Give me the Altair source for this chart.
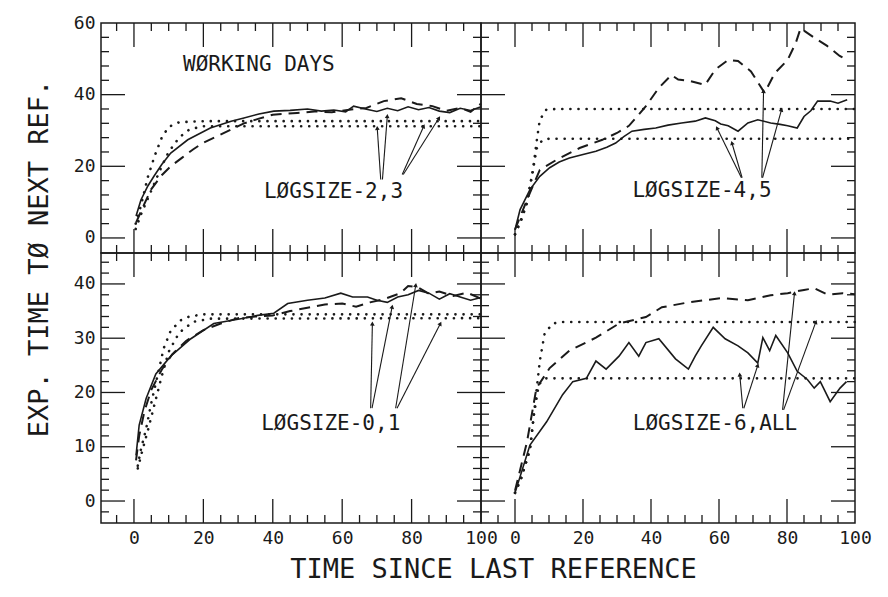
import math
import altair as alt
import pandas as pd

FONT = "DejaVu Sans Mono"
INK = "#1a1a1a"

# ---------------- data ----------------
# Top-left: LØGSIZE-2,3
tl_dot1_x = [0.5, 2, 4, 6, 8, 10, 13, 20, 100]
tl_dot1_y = [4, 9, 17, 23, 28, 31, 32.3, 32.6, 32.6]
tl_dot2_x = [0.5, 2, 4, 6, 8, 10, 13, 16, 20, 100]
tl_dot2_y = [2.5, 6.5, 11, 15.5, 20, 24, 28, 30.3, 31.2, 31.2]
tl_sol_x = [0.6, 2, 4, 5.8, 8, 10.6, 15.5, 22, 28, 31.7, 36, 40.3, 45, 50, 54, 57.6, 61, 63.3, 67, 70,
            73, 76, 79, 82, 85, 88, 91, 94, 97, 100]
tl_sol_y = [6.1, 10.6, 14.5, 17.3, 20.5, 23.7, 27.4, 30.7, 32.6, 33.5, 34.6, 35.4, 35.6, 36.0, 35.4, 35.7,
            35.2, 36.8, 35.9, 35.3, 36.2, 35.5, 36.6, 35.8, 36.4, 35.4, 35.0, 36.2, 35.6, 36.6]
tl_das_x = [0.6, 3, 4.9, 8, 10.6, 14, 17, 20, 24, 28, 31.7, 36, 40, 47, 52, 57, 62, 67, 72, 77, 81.5,
            86, 90, 94, 97, 100]
tl_das_y = [4.3, 9.5, 13.5, 17.5, 20, 22.5, 24.7, 26.6, 28.4, 30.3, 32, 33.3, 34.4, 34.9, 35.3, 35.1,
            35.8, 36.3, 38.2, 39, 37.4, 36.8, 35.5, 36.3, 35.2, 37.5]

# Top-right: LØGSIZE-4,5
tr_dot1_x = [0, 2, 3.5, 5.3, 6.3, 7.3, 9.2, 12, 20, 100]
tr_dot1_y = [1, 5.5, 9.8, 19, 26.5, 33, 35.8, 36, 36, 36]
tr_dot2_x = [0, 2, 3.5, 5.3, 6.4, 8, 10, 100]
tr_dot2_y = [1, 5.5, 9.8, 19, 25, 27.3, 27.7, 27.7]
tr_sol_x = [0, 1.5, 4.4, 7.3, 10.2, 13, 16, 20, 23.8, 27, 29.6, 32, 34.4, 38, 41.4, 45, 49, 53, 56,
            58.9, 60.5, 62.7, 65.6, 68.5, 71.4, 75.2, 78, 80.2, 83, 85, 87, 89, 92.7, 95, 97.7]
tr_sol_y = [2.3, 7.9, 13.5, 17.2, 19.6, 21.2, 22.3, 23.3, 24.2, 25.3, 26.5, 28.3, 29.8, 30.3, 30.7,
            31.5, 32.1, 32.6, 33.5, 32.7, 31.8, 31.3, 29.8, 32.1, 33, 32.1, 31.7, 31.3, 30.7, 33.9,
            35.5, 38.2, 38.2, 37.6, 38.6]
tr_das_x = [0, 3.5, 7.3, 12.2, 19, 25.7, 30, 33.5, 36, 38.5, 42.3, 46, 48, 51, 55.9, 58.9, 62.7, 65.6,
            69.4, 73.4, 76.4, 80.2, 82.6, 84, 88, 91.8, 95.5, 98]
tr_das_y = [2.3, 10.6, 19, 21.8, 25.1, 27.4, 29.3, 31.3, 34, 36.8, 41.9, 45.5, 44.2, 43.9, 42.7, 47,
            49.7, 49.4, 46.5, 40.5, 46, 49.7, 54.5, 58.5, 55.9, 53.6, 50.8, 49.5]

# Bottom-left: LØGSIZE-0,1
bl_dot1_x = [1.1, 2, 3.5, 4.9, 6.9, 8.6, 10.6, 13.5, 16, 20, 100]
bl_dot1_y = [6.5, 9.5, 13.3, 17.8, 23.4, 28.2, 31.4, 33.3, 34, 34.4, 34.4]
bl_dot2_x = [1.1, 2.5, 4, 6, 8, 10, 13, 17, 22, 100]
bl_dot2_y = [6, 9.5, 13, 18, 23, 27.5, 31, 33, 33.6, 33.7]
bl_sol_x = [0.6, 1.5, 3.5, 6.3, 10.6, 16.4, 23, 30.8, 35.7, 40.3, 44.3, 50, 55, 59.6, 63, 67.3, 70, 73,
            76, 79, 82, 85, 88, 91, 94, 97, 100]
bl_sol_y = [8.4, 14, 18.9, 23.4, 26.7, 29.9, 32.7, 33.6, 34.2, 34.6, 36.4, 37, 37.4, 38.3, 37.6, 37.6,
            37, 36.6, 37.6, 38, 38.8, 38.3, 37.2, 38.2, 37.6, 37, 37.5]
bl_das_x = [0.6, 1.5, 3, 5, 8, 11, 15, 20, 25, 30, 35, 40, 45, 50, 55, 60, 64, 68, 72, 76.8, 79, 81.7,
            85, 88, 92, 96, 100]
bl_das_y = [7.5, 12, 16.5, 20.5, 24.2, 27, 29.5, 31.5, 32.7, 33.7, 34, 34.2, 35, 35.6, 36.2, 36.4, 35.8,
            36.6, 37.2, 38.3, 39.6, 39.4, 38.2, 38.6, 37.8, 38.4, 37.3]

# Bottom-right: LØGSIZE-6,ALL
br_dot1_x = [0, 2, 4.4, 6.3, 7.3, 8.7, 11, 14, 100]
br_dot1_y = [1.5, 4.5, 9.5, 20.2, 25.8, 30.8, 32.7, 33, 33]
br_dot2_x = [0, 2, 4.4, 5.6, 7, 9, 100]
br_dot2_y = [1.5, 4.5, 9.5, 16, 21.5, 22.6, 22.6]
br_das_x = [0, 3.5, 6.3, 10.2, 16, 23.8, 30.6, 38.5, 43.2, 51, 60.6, 68.5, 75.2, 80.2, 85, 88, 92, 96.4,
            100]
br_das_y = [1.9, 10.8, 20.8, 24.5, 27.7, 30.1, 32.7, 33.9, 35.7, 36.6, 37.4, 37, 37.9, 38.3, 38.9, 39.2,
            38.0, 38.3, 38.1]
br_sol_x = [0, 4.4, 9.3, 14, 17, 21, 23.8, 26.8, 30.6, 33.5, 36.4, 38.5, 42.3, 47.2, 51, 53, 54.8, 58.3,
            61.8, 65.6, 68.5, 71.4, 72.9, 74.9, 76.7, 80.2, 83, 86, 88, 89.8, 92.7, 95.6, 97.5]
br_sol_y = [1.5, 10.3, 14.6, 19.6, 22, 22.6, 25.8, 24.3, 26.7, 29.2, 26.7, 29.2, 29.9, 26.2, 24.3, 26.7,
            28.6, 32, 29.9, 28.6, 27.3, 25.4, 30.1, 27.7, 30.5, 27.3, 23.9, 22.4, 20.8, 22, 18.3, 20.8, 22]

# annotation texts and pointer lines (data units)
tl_texts = [("WØRKING DAYS", 36, 48.3), ("LØGSIZE-2,3", 57.5, 12.8)]
tr_texts = [("LØGSIZE-4,5", 55, 13.1)]
bl_texts = [("LØGSIZE-0,1", 56.7, 14.2)]
br_texts = [("LØGSIZE-6,ALL", 58.8, 14.2)]

tl_arrows = [(71.1, 16.3, 70.1, 30.7), (71.6, 16.3, 73, 34), (77.3, 17.7, 83.5, 31.2), (77.6, 17.7, 87.9, 33.5)]
tr_arrows = [(66.6, 16.8, 59.4, 30.7), (66.8, 16.8, 63.8, 26.5), (72.6, 16.8, 73.1, 41), (72.8, 16.8, 78.4, 35.8)]
bl_arrows = [(68.2, 17.1, 68.7, 32.7), (68.6, 17.1, 74.4, 35.8), (75.4, 17.1, 81.2, 39.8), (75.8, 17.1, 88.3, 32.7)]
br_arrows = [(67, 17.1, 66.1, 23.3), (67.3, 17.1, 71.4, 25), (78.7, 16.8, 82.2, 38.3), (79, 16.8, 88.5, 33)]

x_labels = [0, 20, 40, 60, 80, 100]
top_y_labels = [0, 20, 40, 60]
bot_y_labels = [0, 10, 20, 30, 40]

x_major = [0, 20, 40, 60, 80]
x_minor = [-5, 5, 10, 15, 25, 30, 35, 45, 50, 55, 65, 70, 75, 85, 90, 95]
top_y_major = [0, 20, 40]
top_y_minor = [4, 8, 12, 16, 24, 28, 32, 36, 44, 48, 52, 56]
bot_y_major = [0, 10, 20, 30, 40]
bot_y_minor = [-2, 2, 4, 6, 8, 12, 14, 16, 18, 22, 24, 26, 28, 32, 34, 36, 38, 42, 44]

MAJ, MIN = 24, 8


def curves_df(curves):
    rows = []
    for name, style, xs, ys in curves:
        for a, b in zip(xs, ys):
            rows.append({"x": a, "y": b, "series": name, "style": style})
    return pd.DataFrame(rows)


def panel(curves, texts, arrows, W, H, xdom, ydom, ymaj, ymin, xaxis, yaxis):
    xs = alt.Scale(domain=xdom, nice=False, zero=False)
    ys = alt.Scale(domain=ydom, nice=False, zero=False)

    def X(f):
        return alt.X(f, scale=xs, axis=xaxis)

    def Y(f):
        return alt.Y(f, scale=ys, axis=yaxis)

    df = curves_df(curves)
    layers = []
    styles = {
        "dotted": dict(strokeDash=[0.1, 8], strokeCap="round", strokeWidth=2.6),
        "dashed": dict(strokeDash=[11, 7], strokeWidth=2),
        "solid": dict(strokeWidth=1.6),
    }
    for st in ["dotted", "dashed", "solid"]:
        sub = df[df["style"] == st]
        layers.append(
            alt.Chart(sub).mark_line(color=INK, **styles[st]).encode(
                x=X("x:Q"), y=Y("y:Q"), detail="series:N")
        )
    # pointer lines with small arrow heads
    adf = pd.DataFrame(arrows, columns=["x0", "y0", "x", "y"])
    kx = W / (xdom[1] - xdom[0])
    ky = H / (ydom[1] - ydom[0])
    adf["angle"] = [
        math.degrees(math.atan2((b[2] - b[0]) * kx, (b[3] - b[1]) * ky)) % 360 for b in arrows
    ]
    layers.append(
        alt.Chart(adf).mark_rule(color=INK, strokeWidth=1.1).encode(
            x=X("x0:Q"), y=Y("y0:Q"), x2="x:Q", y2="y:Q")
    )
    layers.append(
        alt.Chart(adf).mark_point(shape="triangle-up", filled=True, size=22, color=INK, opacity=1).encode(
            x=X("x:Q"), y=Y("y:Q"), angle=alt.Angle("angle:Q", scale=None))
    )
    tdf = pd.DataFrame(texts, columns=["text", "x", "y"])
    layers.append(
        alt.Chart(tdf).mark_text(font=FONT, fontSize=21, color=INK, align="center", baseline="middle").encode(
            x=X("x:Q"), y=Y("y:Q"), text="text:N")
    )
    # inward tick marks on all four edges
    for vals, L in [(x_major, MAJ), (x_minor, MIN)]:
        t = pd.DataFrame({"x": vals})
        for y0, y1 in [(0, L), (H, H - L)]:
            layers.append(
                alt.Chart(t).mark_rule(color=INK, strokeWidth=1.3).encode(
                    x=X("x:Q"), y=alt.value(y0), y2=alt.value(y1))
            )
    for vals, L in [(ymaj, MAJ), (ymin, MIN)]:
        t = pd.DataFrame({"y": vals})
        for x0, x1 in [(0, L), (W, W - L)]:
            layers.append(
                alt.Chart(t).mark_rule(color=INK, strokeWidth=1.3).encode(
                    y=Y("y:Q"), x=alt.value(x0), x2=alt.value(x1))
            )
    return alt.layer(*layers).properties(width=W, height=H)


def xaxis(title=None, **kw):
    return alt.Axis(values=x_labels, ticks=False, tickSize=0, domain=False, grid=False, labelFont=FONT,
                    labelFontSize=18, labelPadding=6, labelFlush=False, labelOverlap=False, labelColor=INK,
                    title=title, titleFont=FONT, titleFontSize=27, titleFontWeight="normal", titleColor=INK,
                    **kw)


def yaxis(vals, title=None, **kw):
    return alt.Axis(values=vals, ticks=False, tickSize=0, domain=False, grid=False, labelFont=FONT,
                    labelFontSize=18, labelPadding=6, labelOverlap=False, labelColor=INK,
                    title=title, titleFont=FONT, titleFontSize=27, titleFontWeight="normal", titleColor=INK,
                    **kw)


LW, RW, TH, BH = 380, 374, 230, 270
LX, RX = [-9.5, 100], [-10, 100]
TY, BY = [-4.2, 60], [-4.05, 45.7]

tl = panel(
    [("d1", "dotted", tl_dot1_x, tl_dot1_y), ("d2", "dotted", tl_dot2_x, tl_dot2_y),
     ("s", "solid", tl_sol_x, tl_sol_y), ("k", "dashed", tl_das_x, tl_das_y)],
    tl_texts, tl_arrows, LW, TH, LX, TY, top_y_major, top_y_minor, None,
    yaxis(top_y_labels, title="EXP. TIME TØ NEXT REF.", titleX=-62, titleY=235, titleAngle=270,
          titleAlign="center", titleBaseline="middle"))
tr = panel(
    [("d1", "dotted", tr_dot1_x, tr_dot1_y), ("d2", "dotted", tr_dot2_x, tr_dot2_y),
     ("s", "solid", tr_sol_x, tr_sol_y), ("k", "dashed", tr_das_x, tr_das_y)],
    tr_texts, tr_arrows, RW, TH, RX, TY, top_y_major, top_y_minor, None, None)
bl = panel(
    [("d1", "dotted", bl_dot1_x, bl_dot1_y), ("d2", "dotted", bl_dot2_x, bl_dot2_y),
     ("s", "solid", bl_sol_x, bl_sol_y), ("k", "dashed", bl_das_x, bl_das_y)],
    bl_texts, bl_arrows, LW, BH, LX, BY, bot_y_major, bot_y_minor,
    xaxis(title="TIME SINCE LAST REFERENCE", titleX=392, titleY=46, titleAlign="center",
          titleBaseline="middle"),
    yaxis(bot_y_labels))
br = panel(
    [("d1", "dotted", br_dot1_x, br_dot1_y), ("d2", "dotted", br_dot2_x, br_dot2_y),
     ("s", "solid", br_sol_x, br_sol_y), ("k", "dashed", br_das_x, br_das_y)],
    br_texts, br_arrows, RW, BH, RX, BY, bot_y_major, bot_y_minor, xaxis(), None)

chart = alt.concat(tl, tr, bl, br, columns=2, spacing=0, bounds="flush").properties(
    padding={"left": 16, "top": 5, "right": 5, "bottom": 5},
    background="white",
).configure_view(stroke=INK, strokeWidth=1.5)

chart.save("out.html", embed_options={"renderer": "svg", "actions": False})
